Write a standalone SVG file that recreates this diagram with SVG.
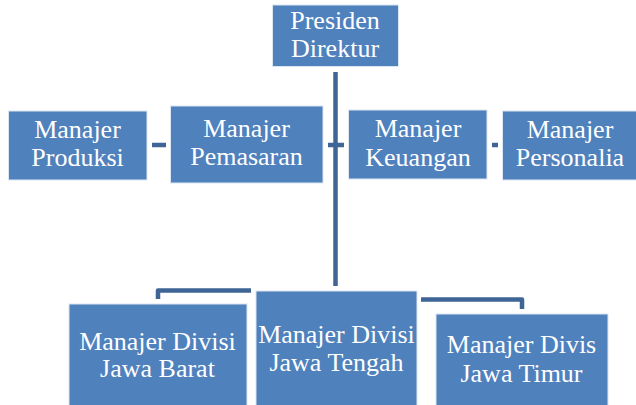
<svg xmlns="http://www.w3.org/2000/svg" width="636" height="405" viewBox="0 0 636 405">
<style>
.box{fill:#4F81BD;stroke:#DCE6F2;stroke-width:1}
.t{font-family:"Liberation Serif","Times New Roman",serif;font-size:26px;fill:#FFFFFF;text-anchor:middle}
.c{stroke:#3E6596;stroke-width:4.5;fill:none;stroke-linejoin:round}
</style>
<rect width="636" height="405" fill="#FFFFFF"/>
<g id="connectors">
<line class="c" x1="335.5" y1="72" x2="335.5" y2="286"/>
<line class="c" x1="328" y1="145" x2="344" y2="145"/>
<line class="c" x1="152" y1="145" x2="166" y2="145"/>
<line class="c" x1="492" y1="145" x2="498" y2="145"/>
<polyline class="c" points="251,290.5 158,290.5 158,299"/>
<polyline class="c" points="421,299.5 522,299.5 522,309"/>
</g>
<g id="presiden">
<rect class="box" x="272.5" y="5" width="126" height="61.5"/>
<text class="t" x="335" y="29">Presiden</text>
<text class="t" x="335" y="57">Direktur</text>
</g>
<g id="produksi">
<rect class="box" x="8.5" y="111" width="138.5" height="69"/>
<text class="t" x="77.5" y="138">Manajer</text>
<text class="t" x="77.5" y="166">Produksi</text>
</g>
<g id="pemasaran">
<rect class="box" x="170.5" y="106" width="152.5" height="77"/>
<text class="t" x="246.5" y="137">Manajer</text>
<text class="t" x="246.5" y="165">Pemasaran</text>
</g>
<g id="keuangan">
<rect class="box" x="348.5" y="110" width="138.5" height="69"/>
<text class="t" x="418" y="137">Manajer</text>
<text class="t" x="418" y="166">Keuangan</text>
</g>
<g id="personalia">
<rect class="box" x="502.5" y="111" width="134" height="69"/>
<text class="t" x="570" y="138">Manajer</text>
<text class="t" x="570" y="166">Personalia</text>
</g>
<g id="jawa-barat">
<rect class="box" x="69" y="304" width="178" height="102"/>
<text class="t" x="157.5" y="350">Manajer Divisi</text>
<text class="t" x="157.5" y="377">Jawa Barat</text>
</g>
<g id="jawa-tengah">
<rect class="box" x="256" y="291" width="161" height="115"/>
<text class="t" x="336.5" y="343">Manajer Divisi</text>
<text class="t" x="336.5" y="371">Jawa Tengah</text>
</g>
<g id="jawa-timur">
<rect class="box" x="436" y="314" width="172" height="92"/>
<text class="t" x="521.5" y="353">Manajer Divis</text>
<text class="t" x="521.5" y="382">Jawa Timur</text>
</g>
</svg>
